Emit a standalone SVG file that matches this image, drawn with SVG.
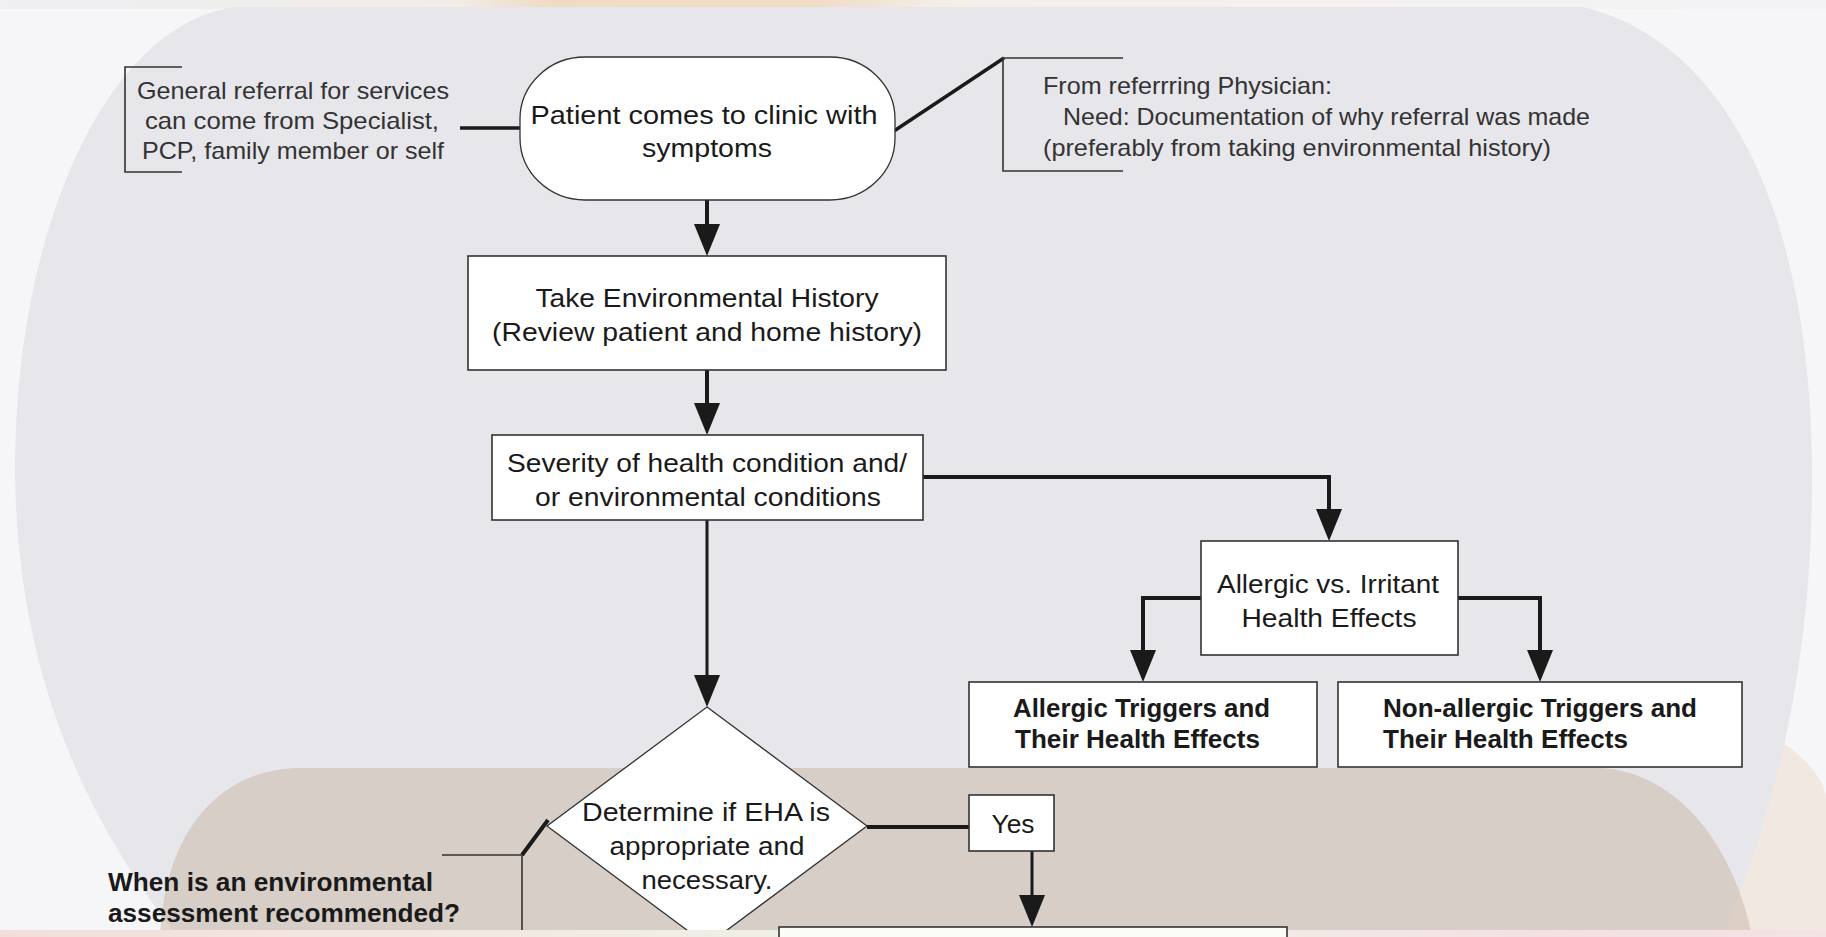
<svg xmlns="http://www.w3.org/2000/svg" width="1826" height="937" viewBox="0 0 1826 937">
<defs>
<style>
.t{font-family:"Liberation Sans",Arial,Helvetica,sans-serif;fill:#1a1a1a;font-size:26px}
.a{font-family:"Liberation Sans",Arial,Helvetica,sans-serif;fill:#333;font-size:24px}
.b{font-weight:bold}
.box{fill:#fff;stroke:#333;stroke-width:1.6}
.thin{fill:none;stroke:#333;stroke-width:1.6}
.conn{fill:none;stroke:#1a1a1a;stroke-width:4}
.conn3{fill:none;stroke:#1a1a1a;stroke-width:3}
</style>
<marker id="arr" markerUnits="userSpaceOnUse" viewBox="0 0 32 26" markerWidth="32" markerHeight="26" refX="24" refY="13" orient="auto">
<path d="M0,0 L32,13 L0,26 Z" fill="#1a1a1a"/>
</marker>
<linearGradient id="topg" x1="0" y1="0" x2="1" y2="0">
<stop offset="0" stop-color="#eef0f4"/>
<stop offset="0.25" stop-color="#f1ece6"/>
<stop offset="0.3" stop-color="#f0dcc6"/>
<stop offset="0.45" stop-color="#f0ddc8"/>
<stop offset="0.52" stop-color="#f4efe9"/>
<stop offset="1" stop-color="#f3f3f6"/>
</linearGradient>
<linearGradient id="botg" x1="0" y1="0" x2="1" y2="0">
<stop offset="0" stop-color="#f2dfdc"/>
<stop offset="0.2" stop-color="#f3e6e0"/>
<stop offset="0.45" stop-color="#eef1e7"/>
<stop offset="0.65" stop-color="#f1eee8"/>
<stop offset="0.85" stop-color="#f4dfe4"/>
<stop offset="1" stop-color="#f3e2e6"/>
</linearGradient>
</defs>

<g id="background">
<rect x="0" y="0" width="1826" height="937" fill="#f6f6f8"/>
<rect x="0" y="0" width="1826" height="9" fill="url(#topg)"/>
<path d="M1640,700 C1740,700 1826,760 1826,800 L1826,937 L1640,937 Z" fill="#f2e8e2"/>
<path d="M235,7 L1583,7 C1720,40 1810,200 1812,470 C1813,680 1768,830 1722,937 L178,937 C70,800 16,650 15,467 C16,230 105,25 235,7 Z" fill="#e6e6eb"/>
<path d="M300,768 L1600,768 C1680,772 1735,850 1752,937 L160,937 C165,820 230,768 300,768 Z" fill="#c7b6a4" fill-opacity="0.5"/>
</g>

<g id="connectors">
<line x1="460" y1="128" x2="521" y2="128" stroke="#1a1a1a" stroke-width="3.5"/>
<line x1="894" y1="131" x2="1004" y2="58" stroke="#1a1a1a" stroke-width="3.5"/>
<line x1="522" y1="855" x2="548" y2="820" stroke="#1a1a1a" stroke-width="4"/>
<path class="conn" d="M707,200 V248" marker-end="url(#arr)"/>
<path class="conn" d="M707,370 V427" marker-end="url(#arr)"/>
<path class="conn" d="M923,477 H1329 V533" marker-end="url(#arr)"/>
<path class="conn" d="M1201,598 H1143 V674" marker-end="url(#arr)"/>
<path class="conn" d="M1458,598 H1540 V674" marker-end="url(#arr)"/>
<path class="conn3" d="M707,520 V699" marker-end="url(#arr)"/>
<path class="conn" d="M867,827 H969"/>
<path class="conn3" d="M1032,851 V919" marker-end="url(#arr)"/>
</g>

<g id="note-general">
<polyline class="thin" points="182,67 125,67 125,172 182,172"/>
<text class="a" text-anchor="middle" x="293" y="99" textLength="312" lengthAdjust="spacingAndGlyphs">General referral for services</text>
<text class="a" text-anchor="middle" x="292" y="129" textLength="294" lengthAdjust="spacingAndGlyphs">can come from Specialist,</text>
<text class="a" text-anchor="middle" x="293" y="159" textLength="302" lengthAdjust="spacingAndGlyphs">PCP, family member or self</text>
</g>

<g id="start">
<rect x="520" y="57" width="375" height="143" rx="65" ry="62" fill="#fff" stroke="#333" stroke-width="1.3"/>
<text class="t" text-anchor="middle" x="704" y="124" textLength="347" lengthAdjust="spacingAndGlyphs">Patient comes to clinic with</text>
<text class="t" text-anchor="middle" x="707" y="157" textLength="130" lengthAdjust="spacingAndGlyphs">symptoms</text>
</g>

<g id="note-physician">
<polyline class="thin" points="1123,58 1003,58 1003,171 1123,171"/>
<text class="a" x="1043" y="94" textLength="289" lengthAdjust="spacingAndGlyphs">From referrring Physician:</text>
<text class="a" x="1063" y="125" textLength="527" lengthAdjust="spacingAndGlyphs">Need: Documentation of why referral was made</text>
<text class="a" x="1043" y="156" textLength="508" lengthAdjust="spacingAndGlyphs">(preferably from taking environmental history)</text>
</g>

<g id="history">
<rect class="box" x="468" y="256" width="478" height="114"/>
<text class="t" text-anchor="middle" x="707" y="307" textLength="343" lengthAdjust="spacingAndGlyphs">Take Environmental History</text>
<text class="t" text-anchor="middle" x="707" y="341" textLength="430" lengthAdjust="spacingAndGlyphs">(Review patient and home history)</text>
</g>

<g id="severity">
<rect class="box" x="492" y="435" width="431" height="85"/>
<text class="t" text-anchor="middle" x="707" y="472" textLength="400" lengthAdjust="spacingAndGlyphs">Severity of health condition and/</text>
<text class="t" text-anchor="middle" x="708" y="506" textLength="346" lengthAdjust="spacingAndGlyphs">or environmental conditions</text>
</g>

<g id="allergic-vs-irritant">
<rect class="box" x="1201" y="541" width="257" height="114"/>
<text class="t" text-anchor="middle" x="1328" y="593" textLength="222" lengthAdjust="spacingAndGlyphs">Allergic vs. Irritant</text>
<text class="t" text-anchor="middle" x="1329" y="627" textLength="175" lengthAdjust="spacingAndGlyphs">Health Effects</text>
</g>

<g id="allergic-triggers">
<rect class="box" x="969" y="682" width="348" height="85"/>
<text class="t b" x="1013" y="717" textLength="257" lengthAdjust="spacingAndGlyphs">Allergic Triggers and</text>
<text class="t b" x="1015" y="748" textLength="245" lengthAdjust="spacingAndGlyphs">Their Health Effects</text>
</g>

<g id="nonallergic-triggers">
<rect class="box" x="1338" y="682" width="404" height="85"/>
<text class="t b" x="1383" y="717" textLength="314" lengthAdjust="spacingAndGlyphs">Non-allergic Triggers and</text>
<text class="t b" x="1383" y="748" textLength="245" lengthAdjust="spacingAndGlyphs">Their Health Effects</text>
</g>

<g id="decision">
<polygon points="707,707 867,826 707,945 547,826" fill="#fff" stroke="#333" stroke-width="1.3"/>
<text class="t" text-anchor="middle" x="706" y="821" textLength="248" lengthAdjust="spacingAndGlyphs">Determine if EHA is</text>
<text class="t" text-anchor="middle" x="707" y="855" textLength="195" lengthAdjust="spacingAndGlyphs">appropriate and</text>
<text class="t" text-anchor="middle" x="707" y="889" textLength="131" lengthAdjust="spacingAndGlyphs">necessary.</text>
</g>

<g id="yes">
<rect class="box" x="969" y="795" width="85" height="56"/>
<text class="t" text-anchor="middle" x="1013" y="833" textLength="43" lengthAdjust="spacingAndGlyphs">Yes</text>
</g>

<g id="note-when">
<polyline class="thin" points="442,855 522,855 522,937"/>
<text class="t b" x="108" y="891" textLength="325" lengthAdjust="spacingAndGlyphs">When is an environmental</text>
<text class="t b" x="108" y="922" textLength="352" lengthAdjust="spacingAndGlyphs">assessment recommended?</text>
</g>

<rect id="strip" x="0" y="930" width="1826" height="7" fill="url(#botg)"/>

<g id="next-step">
<rect x="779" y="927" width="508" height="20" fill="#fbfcf8" stroke="#333" stroke-width="1.6"/>
</g>
</svg>
